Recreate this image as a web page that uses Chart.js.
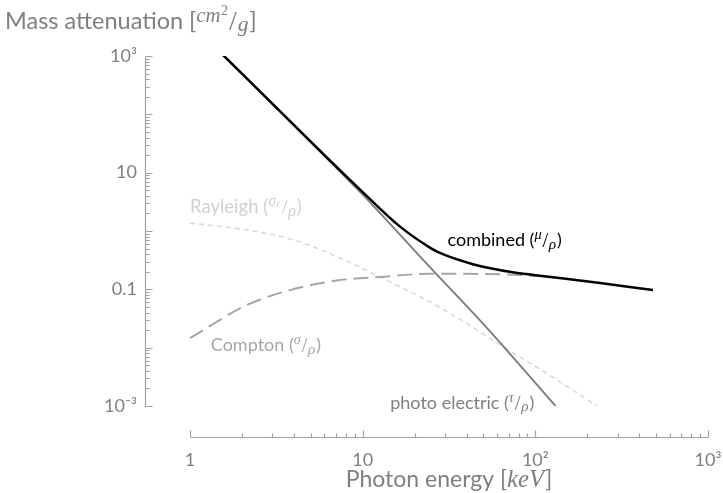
<!DOCTYPE html>
<html>
<head>
<meta charset="utf-8">
<script src="https://cdn.jsdelivr.net/npm/chart.js@4.4.1/dist/chart.umd.min.js"></script>
<style>
  html, body { margin: 0; padding: 0; background: #fff; }
</style>
</head>
<body>
<canvas id="chart" width="723" height="493"></canvas>
<script>
// photon energy in keV, mass attenuation in cm^2/g
const combinedEnergy = [1, 1.575, 6.3, 10, 16.4, 24.5, 28, 43.5, 74, 100, 237, 480];
const combinedValue  = [3800, 1000, 17.4, 4.65, 1.2, 0.52, 0.42, 0.27, 0.196, 0.175, 0.128, 0.097];

const photoEnergy = [1, 1.575, 6.3, 10, 24.5, 53, 131];
const photoValue  = [3800, 1000, 16.7, 4.2, 0.24, 0.021, 0.001];

const comptonEnergy = [1, 2.14, 3.8, 7.4, 12.6, 24.5, 68.5, 100];
const comptonValue  = [0.0146, 0.054, 0.097, 0.144, 0.163, 0.185, 0.18, 0.168];

const rayleighEnergy = [1, 2.14, 4, 7.4, 12.6, 24.5, 46, 65, 106, 228];
const rayleighValue  = [1.37, 1.04, 0.70, 0.344, 0.163, 0.061, 0.020, 0.0103, 0.0043, 0.001];

// axis ticks
const xMajor = [1, 10, 100, 1000];
const xTickLabels = ['1', '10', '10²', '10³'];
const yMajor = [0.001, 0.01, 0.1, 1, 10, 100, 1000];
const yLabelled = [0.001, 0.1, 10, 1000];
const yTickLabels = ['10⁻³', '0.1', '10', '10³'];
const minorSteps = [2, 3, 4, 5, 6, 7, 8, 9];

const grey = '#7f7f7f';
const axisGrey = '#a0a0a0';
const sans = 'Lato';
const serif = '"Liberation Serif"';

const toPoints = (xs, ys) => xs.map((x, i) => ({ x: x, y: ys[i] }));

// draws a run of text pieces (normal, italic, raised, lowered) one after another
function drawRich(ctx, runs, x, y, size, color, align) {
  const parts = runs.map(r => {
    const s = size * (r.scale || 1);
    const font = (r.italic ? 'italic ' : '') + s.toFixed(1) + 'px ' + (r.serif ? serif : sans);
    ctx.font = font;
    return { t: r.t, font: font, w: ctx.measureText(r.t).width, dy: (r.dy || 0) * size, gap: (r.gap || 0) * size };
  });
  const total = parts.reduce((a, p) => a + p.w + p.gap, 0);
  let cx = align === 'right' ? x - total : align === 'center' ? x - total / 2 : x;
  ctx.fillStyle = color;
  ctx.textAlign = 'left';
  ctx.textBaseline = 'alphabetic';
  parts.forEach(p => {
    ctx.font = p.font;
    ctx.fillText(p.t, cx, y + p.dy);
    cx += p.w + p.gap;
  });
}

const sup = (t, extra) => Object.assign({ t: t, italic: true, serif: true, scale: 0.8, dy: -0.38, gap: 0.05 }, extra || {});
const sub = (t, extra) => Object.assign({ t: t, italic: true, serif: true, scale: 0.85, dy: 0.15, gap: 0.05 }, extra || {});
const slash = { t: '/', serif: true, scale: 1.15, dy: 0.05, gap: 0.03 };

// the axes stand apart from the plot, like in the original figure
const detachedAxes = {
  id: 'detachedAxes',
  afterDraw(chart) {
    const { ctx, chartArea } = chart;
    const xs = chart.scales.x, ys = chart.scales.y;
    const axX = Math.round(chartArea.left - 45) + 0.5;
    const axY = Math.round(chartArea.bottom + 31) + 0.5;
    ctx.save();
    ctx.strokeStyle = axisGrey;
    ctx.lineWidth = 1.2;

    // y axis
    const yTop = Math.round(ys.getPixelForValue(yMajor[yMajor.length - 1])) + 0.5;
    const yBot = Math.round(ys.getPixelForValue(yMajor[0])) + 0.5;
    ctx.beginPath();
    ctx.moveTo(axX, yTop);
    ctx.lineTo(axX, yBot);
    yMajor.forEach((v, i) => {
      const py = Math.round(ys.getPixelForValue(v)) + 0.5;
      ctx.moveTo(axX, py);
      ctx.lineTo(axX + 7, py);
      if (i < yMajor.length - 1) {
        minorSteps.forEach(m => {
          const pm = Math.round(ys.getPixelForValue(v * m)) + 0.5;
          ctx.moveTo(axX, pm);
          ctx.lineTo(axX + 4, pm);
        });
      }
    });
    ctx.stroke();

    // x axis
    const xL = Math.round(xs.getPixelForValue(xMajor[0])) + 0.5;
    const xR = Math.round(xs.getPixelForValue(xMajor[xMajor.length - 1])) + 0.5;
    ctx.beginPath();
    ctx.moveTo(xL, axY);
    ctx.lineTo(xR, axY);
    xMajor.forEach((v, i) => {
      const px = Math.round(xs.getPixelForValue(v)) + 0.5;
      ctx.moveTo(px, axY);
      ctx.lineTo(px, axY - 7);
      if (i < xMajor.length - 1) {
        minorSteps.forEach(m => {
          const pm = Math.round(xs.getPixelForValue(v * m)) + 0.5;
          ctx.moveTo(pm, axY);
          ctx.lineTo(pm, axY - 4);
        });
      }
    });
    ctx.stroke();

    // axis titles
    drawRich(ctx, [
      { t: 'Mass attenuation [' },
      { t: 'cm', italic: true, serif: true, scale: 0.88, dy: -0.28, gap: 0.02 },
      { t: '2', serif: true, scale: 0.6, dy: -0.6, gap: 0.05 },
      { t: '/', serif: true, scale: 1.2, dy: 0.05, gap: 0.03 },
      { t: 'g', italic: true, serif: true, scale: 0.92, dy: 0.1, gap: 0.05 },
      { t: ']' }
    ], 5, 29, 23.5, grey, 'left');

    drawRich(ctx, [
      { t: 'Photon energy [' },
      { t: 'keV', italic: true, serif: true, scale: 1.08, gap: 0.05 },
      { t: ']' }
    ], (chartArea.left + chartArea.right) / 2, 487, 23, grey, 'center');

    // curve labels
    drawRich(ctx, [
      { t: 'combined (' }, sup('μ'), slash, sub('ρ'), { t: ')' }
    ], xs.getPixelForValue(31), ys.getPixelForValue(0.55), 18, '#000', 'left');

    drawRich(ctx, [
      { t: 'Rayleigh (' }, sup('σ', { scale: 0.85, gap: 0 }), sup('r', { scale: 0.55, dy: -0.32, gap: 0.1 }), slash, sub('ρ'), { t: ')' }
    ], xs.getPixelForValue(1), ys.getPixelForValue(2.03), 18.5, '#d0d0d0', 'left');

    drawRich(ctx, [
      { t: 'Compton (' }, sup('σ'), slash, sub('ρ'), { t: ')' }
    ], xs.getPixelForValue(1.32), ys.getPixelForValue(0.0088), 18, '#a6a6a6', 'left');

    drawRich(ctx, [
      { t: 'photo electric (' }, sup('τ'), slash, sub('ρ'), { t: ')' }
    ], xs.getPixelForValue(98.5), ys.getPixelForValue(0.0009), 18, grey, 'right');

    ctx.restore();
  }
};

new Chart(document.getElementById('chart'), {
  type: 'line',
  data: {
    datasets: [
      {
        label: 'combined',
        data: toPoints(combinedEnergy, combinedValue),
        borderColor: '#000000',
        borderWidth: 2.5,
        cubicInterpolationMode: 'monotone'
      },
      {
        label: 'photo electric',
        data: toPoints(photoEnergy, photoValue),
        borderColor: '#7a7a7a',
        borderWidth: 1.8,
        cubicInterpolationMode: 'monotone'
      },
      {
        label: 'Compton',
        data: toPoints(comptonEnergy, comptonValue),
        borderColor: '#a6a6a6',
        borderWidth: 2,
        borderDash: [15, 7],
        cubicInterpolationMode: 'monotone'
      },
      {
        label: 'Rayleigh',
        data: toPoints(rayleighEnergy, rayleighValue),
        borderColor: '#d9d9d9',
        borderWidth: 1.6,
        borderDash: [5, 4],
        cubicInterpolationMode: 'monotone'
      }
    ]
  },
  options: {
    responsive: false,
    animation: false,
    layout: { padding: { top: 56, right: 15, left: 0, bottom: 0 } },
    elements: { point: { radius: 0 } },
    plugins: {
      legend: { display: false },
      tooltip: { enabled: false }
    },
    scales: {
      x: {
        type: 'logarithmic',
        min: 1,
        max: 1000,
        // tick marks are not drawn; tickLength only pushes the labels down
        grid: { display: false, drawTicks: true, tickLength: 43 },
        border: { display: false },
        afterBuildTicks: scale => { scale.ticks = xMajor.map(v => ({ value: v })); },
        afterFit: scale => { scale.height = 87; },
        ticks: {
          autoSkip: false,
          maxRotation: 0,
          padding: 0,
          color: grey,
          font: { family: sans, size: 18 },
          callback: (v, i) => xTickLabels[i]
        }
      },
      y: {
        type: 'logarithmic',
        min: 0.001,
        max: 1000,
        grid: { display: false, drawTicks: true, tickLength: 53 },
        border: { display: false },
        afterBuildTicks: scale => { scale.ticks = yLabelled.map(v => ({ value: v })); },
        afterFit: scale => { scale.width = 190; },
        ticks: {
          autoSkip: false,
          padding: 0,
          color: grey,
          font: { family: sans, size: 18 },
          callback: (v, i) => yTickLabels[i]
        }
      }
    }
  },
  plugins: [detachedAxes]
});
</script>
</body>
</html>
